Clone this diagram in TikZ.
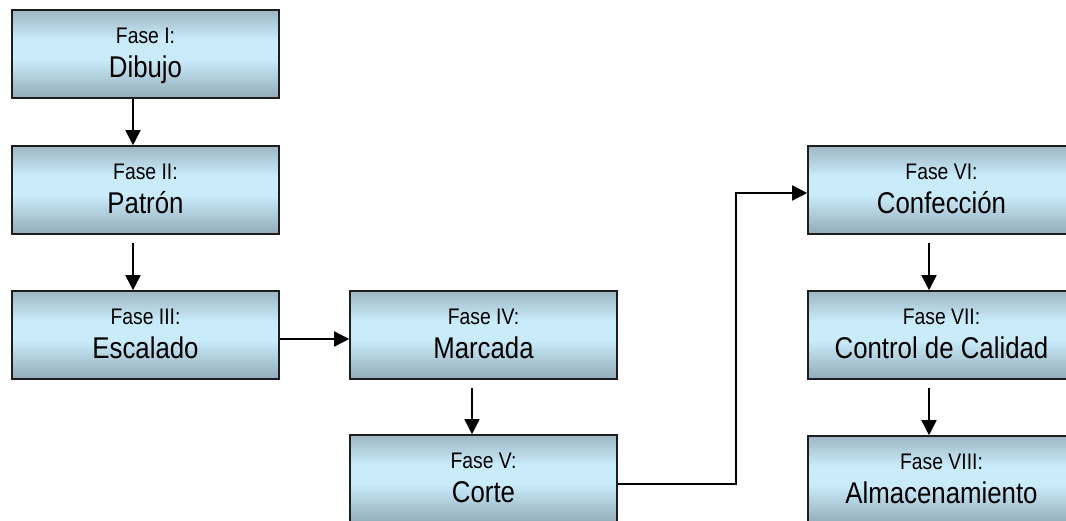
\documentclass[tikz,border=0pt]{standalone}
\usepackage{fontspec}
\setmainfont{Liberation Sans}
\newfontfamily\narrowfont{Liberation Sans}[FakeStretch=0.86]
\usetikzlibrary{arrows.meta}
\definecolor{shtop}{HTML}{55646F}
\definecolor{shtopb}{HTML}{7C8E9A}
\definecolor{shlight}{HTML}{C9EBFA}
\definecolor{shbotb}{HTML}{6E7F8A}
\definecolor{shbot}{HTML}{45525B}
\definecolor{edge}{HTML}{1E1E1E}
\pgfdeclareverticalshading{boxshade}{100bp}{color(0bp)=(shbot); color(10bp)=(shbotb); color(47bp)=(shlight); color(58bp)=(shlight); color(88bp)=(shtopb); color(100bp)=(shtop)}
\newcommand\phasetext[2]{{\fontsize{22.5}{34}\selectfont\rule{0pt}{19pt}#1}\\{\fontsize{30}{34}\selectfont #2\rule[-7pt]{0pt}{7pt}}}
\tikzset{
  phasebox/.style={draw=edge, line width=1.6pt, shading=boxshade, rectangle,
    minimum width=267pt, minimum height=88pt, inner sep=0pt, align=center,
    font=\narrowfont\fontsize{30}{34}\selectfont, text=black},
  flow/.style={draw=black, line width=1.6pt, -{Triangle[width=15pt,length=15pt]}}
}
\begin{document}
\begin{tikzpicture}[x=1pt,y=-1pt]
\clip (0,0) rectangle (1066,520);
\fill[white] (0,0) rectangle (1066,520);
\node[phasebox] (p1) at (145.5,54) {\phasetext{Fase I:}{Dibujo}};
\node[phasebox] (p2) at (145.5,190) {\phasetext{Fase II:}{Patrón}};
\node[phasebox] (p3) at (145.5,335) {\phasetext{Fase III:}{Escalado}};
\node[phasebox] (p4) at (483.5,335) {\phasetext{Fase IV:}{Marcada}};
\node[phasebox] (p5) at (483.5,479) {\phasetext{Fase V:}{Corte}};
\node[phasebox] (p6) at (941.5,190) {\phasetext{Fase VI:}{Confección}};
\node[phasebox] (p7) at (941.5,335) {\phasetext{Fase VII:}{Control de Calidad}};
\node[phasebox] (p8) at (941.5,480) {\phasetext{Fase VIII:}{Almacenamiento}};
\coordinate (bend1) at (736,484);
\coordinate (bend2) at (736,193);
\draw[flow] ([xshift=-12.5pt]p1.south) -- ([xshift=-12.5pt]p2.north);
\draw[flow] ([xshift=-12.5pt,yshift=-8pt]p2.south) -- ([xshift=-12.5pt]p3.north);
\draw[flow] ([yshift=-4pt]p3.east) -- ([yshift=-4pt]p4.west);
\draw[flow] ([xshift=-11.5pt,yshift=-8pt]p4.south) -- ([xshift=-11.5pt]p5.north);
\draw[flow] (p5.east |- bend1) -- (bend1) -- (bend2) -- (p6.west |- bend2);
\draw[flow] ([xshift=-12.5pt,yshift=-8pt]p6.south) -- ([xshift=-12.5pt]p7.north);
\draw[flow] ([xshift=-12.5pt,yshift=-8pt]p7.south) -- ([xshift=-12.5pt]p8.north);
\end{tikzpicture}
\end{document}
